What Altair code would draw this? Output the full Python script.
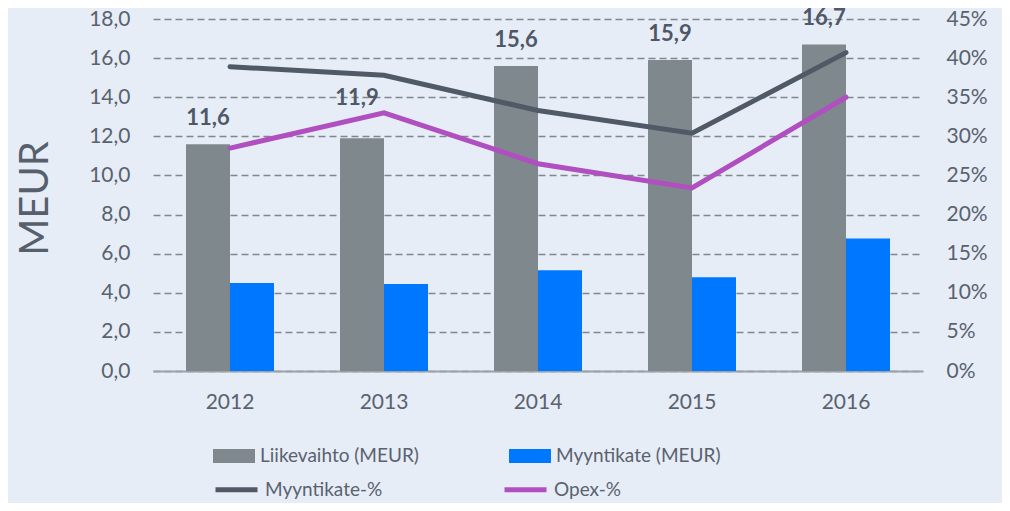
import altair as alt
import pandas as pd

years = ["2012", "2013", "2014", "2015", "2016"]
liikevaihto = [11.6, 11.9, 15.6, 15.9, 16.7]
myyntikate = [4.5, 4.45, 5.15, 4.8, 6.77]
myyntikate_pct = [0.389, 0.378, 0.333, 0.304, 0.407]
opex_pct = [0.285, 0.330, 0.265, 0.234, 0.350]

bar_series = ["Liikevaihto (MEUR)", "Myyntikate (MEUR)"]
line_series = ["Myyntikate-%", "Opex-%"]

FONT = "Lato"
TXT = "#5a626e"
BG = "#e6edf7"

bars_df = pd.DataFrame(
    {"year": years * 2,
     "series": [bar_series[0]] * 5 + [bar_series[1]] * 5,
     "value": liikevaihto + myyntikate}
)
lines_df = pd.DataFrame(
    {"year": years * 2,
     "series": [line_series[0]] * 5 + [line_series[1]] * 5,
     "value": myyntikate_pct + opex_pct}
)
label_df = pd.DataFrame({"year": years, "series": [bar_series[0]] * 5, "value": liikevaihto})

x_enc = alt.X("year:N", sort=years,
              scale=alt.Scale(paddingInner=0.4286, paddingOuter=0.2143),
              axis=alt.Axis(title=None, labelAngle=0, ticks=False, domain=True,
                            domainColor="#9aa1a8", domainWidth=2, labelPadding=20,
                            labelFontSize=21, labelColor=TXT, labelFont=FONT, grid=False))
xoff = alt.XOffset("series:N", scale=alt.Scale(domain=bar_series, paddingInner=0, paddingOuter=0))

y_left = alt.Y("value:Q",
               scale=alt.Scale(domain=[0, 18], nice=False),
               axis=alt.Axis(title="MEUR", values=list(range(0, 19, 2)),
                             labelExpr="replace(format(datum.value, '.1f'), '.', ',')",
                             ticks=False, domain=False, labelPadding=23, labelOverlap=False,
                             labelFontSize=21, labelColor=TXT, labelFont=FONT,
                             grid=True, gridColor="#80878f", gridDash=[7, 4], gridWidth=1.5,
                             titleFontSize=40, titleFontWeight="normal", titleColor="#56606d",
                             titleFont=FONT, titleAngle=-90, titleX=-118, titleY=179,
                             titleAlign="center", titleBaseline="middle"))

bars = alt.Chart(bars_df).mark_bar(size=44).encode(
    x=x_enc,
    xOffset=xoff,
    y=y_left,
    fill=alt.Fill("series:N",
                  scale=alt.Scale(domain=bar_series, range=["#7f888d", "#0077ff"]),
                  legend=alt.Legend(title=None, orient="none", direction="horizontal",
                                    legendX=60, legendY=416, symbolType="M-1,-0.33L1,-0.33L1,0.33L-1,0.33Z",
                                    symbolSize=1764, symbolStrokeWidth=0, labelOffset=5,
                                    columnPadding=90, labelFontSize=19, labelColor=TXT,
                                    labelFont=FONT, labelLimit=400)),
)

label_base = alt.Chart(label_df).encode(
    x=alt.X("year:N", sort=years),
    xOffset=xoff,
    y=y_left,
    text=alt.Text("label:N"),
).transform_calculate(label="replace(format(datum.value, '.1f'), '.', ',')")

label_style = dict(font=FONT, fontSize=22, fontWeight="bold", color="#4f5866", baseline="alphabetic")
labels_main = label_base.transform_filter("datum.year != '2013'").mark_text(dy=-19, **label_style)
labels_raised = label_base.transform_filter("datum.year == '2013'").mark_text(dy=-33, dx=-5, **label_style)

lines = alt.Chart(lines_df).mark_line(strokeWidth=5, strokeCap="round", strokeJoin="miter").encode(
    x=alt.X("year:N", sort=years),
    y=alt.Y("value:Q",
            scale=alt.Scale(domain=[0, 0.45], nice=False),
            axis=alt.Axis(title=None, orient="right", values=[i / 100 for i in range(0, 46, 5)],
                          format=".0%", ticks=False, domain=False, grid=False, labelOverlap=False,
                          labelPadding=23, labelFontSize=21, labelColor=TXT, labelFont=FONT)),
    stroke=alt.Stroke("series:N",
                      scale=alt.Scale(domain=line_series, range=["#505a67", "#b04fc0"]),
                      legend=alt.Legend(title=None, orient="none", direction="horizontal",
                                        legendX=60, legendY=447, symbolType="stroke",
                                        symbolSize=1764, symbolStrokeWidth=5, labelOffset=5,
                                        columnPadding=111, labelFontSize=19, labelColor=TXT,
                                        labelFont=FONT, labelLimit=400)),
)

left = alt.layer(bars, labels_main, labels_raised)
chart = alt.layer(left, lines).resolve_scale(
    y="independent", fill="independent", stroke="independent"
).properties(
    width=770, height=352,
    background=BG,
    padding={"left": 145, "top": 11, "right": 79, "bottom": 132},
    autosize=alt.AutoSizeParams(type="none"),
).configure_view(stroke=None)

chart.save("out.html", embed_options={"renderer": "svg", "actions": False})
